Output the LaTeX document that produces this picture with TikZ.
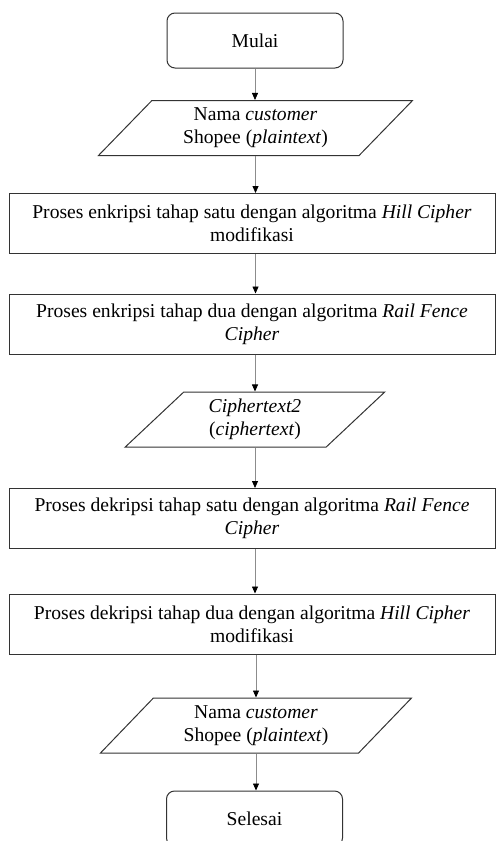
\documentclass[tikz,border=0pt]{standalone}
\usepackage{fontspec}
\setmainfont{Liberation Serif}
\usetikzlibrary{arrows.meta,positioning,shapes.geometric}

\begin{document}
\begin{tikzpicture}[x=1pt,y=-1pt,
  base/.style={draw=black!80,line width=1pt,align=center,inner sep=0pt,
    font=\fontsize{19.6}{23}\selectfont},
  terminal/.style={base,rounded corners=8pt,minimum width=176pt,minimum height=55pt},
  process/.style={base,minimum width=486pt,minimum height=60pt},
  io/.style={base,trapezium,trapezium left angle=47,trapezium right angle=133,
    trapezium stretches=true,minimum height=55pt},
  flow/.style={draw=black!45,line width=0.8pt,
    -{Triangle[length=7pt,width=6pt,color=black]}}]
\useasboundingbox (0,0) rectangle (496,841);

\node[terminal] (mulai) at (255,40.5) {Mulai};
\node[io,minimum width=315pt] (in1) at (255.5,128) {Nama \textit{customer}\\ Shopee (\textit{plaintext})};
\node[process] (enk1) at (252,223.5) {Proses enkripsi tahap satu dengan algoritma \textit{Hill Cipher}\\ modifikasi};
\node[process] (enk2) at (252,324) {Proses enkripsi tahap dua dengan algoritma \textit{Rail Fence}\\ \textit{Cipher}};
\node[io,minimum width=260pt] (out1) at (255,419.5) {\textit{Ciphertext2}\\ (\textit{ciphertext})};
\node[process] (dek1) at (252,518.5) {Proses dekripsi tahap satu dengan algoritma \textit{Rail Fence}\\ \textit{Cipher}};
\node[process] (dek2) at (252,624) {Proses dekripsi tahap dua dengan algoritma \textit{Hill Cipher}\\ modifikasi};
\node[io,minimum width=312pt] (in2) at (256,725.5) {Nama \textit{customer}\\ Shopee (\textit{plaintext})};
\node[terminal] (selesai) at (254.5,818.5) {Selesai};

% alur
\draw[flow] (mulai.south) -- (mulai.south |- in1.north);
\draw[flow] (in1.south) -- (in1.south |- enk1.north);
\draw[flow] (in1.south |- enk1.south) -- (in1.south |- enk2.north);
\draw[flow] (out1.north |- enk2.south) -- (out1.north);
\draw[flow] (out1.south) -- (out1.south |- dek1.north);
\draw[flow] (out1.south |- dek1.south) -- (out1.south |- dek2.north);
\draw[flow] (in2.north |- dek2.south) -- (in2.north);
\draw[flow] (in2.south) -- (in2.south |- selesai.north);
\end{tikzpicture}
\end{document}
